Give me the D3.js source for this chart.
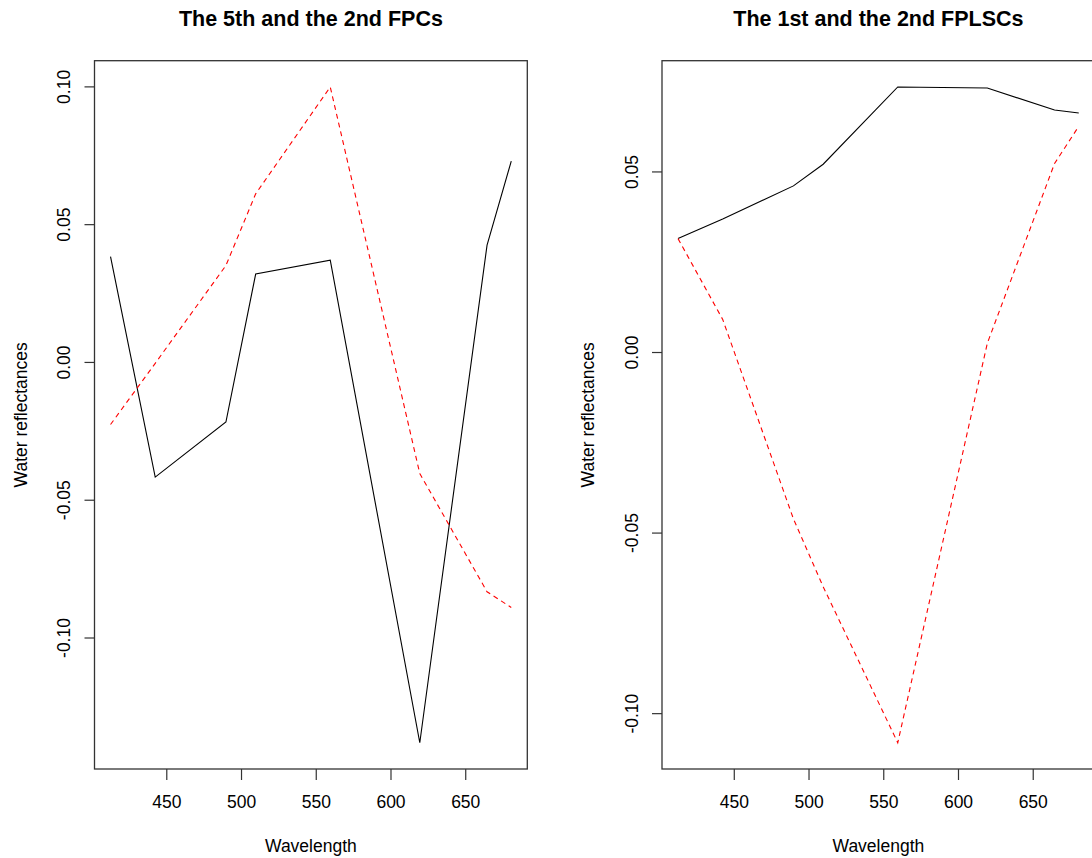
<!DOCTYPE html>
<html>
<head>
<meta charset="utf-8">
<script src="https://cdn.jsdelivr.net/npm/d3@7"></script>
<style>
	body { margin: 0; background: #fff; }
	text { font-family: "Liberation Sans", Arial, sans-serif; fill: #000; }
</style>
</head>
<body>
<div id="chart"></div>
<script>
// band centres (nm)
var wavelengths = [412.7, 442.6, 489.9, 509.8, 559.7, 619.6, 664.6, 680.8];
// left panel: the 5th and the 2nd FPCs
var fpc5 = [0.0382, -0.0418, -0.0218, 0.0319, 0.0369, -0.1382, 0.0424, 0.0729];
var fpc2 = [-0.0227, -0.0005, 0.0350, 0.0610, 0.0998, -0.0405, -0.0834, -0.0891];
// right panel: the 1st and the 2nd FPLSCs
var fplsc1 = [0.0314, 0.0368, 0.0460, 0.0520, 0.0734, 0.0731, 0.0670, 0.0662];
var fplsc2 = [0.0314, 0.0090, -0.0462, -0.0650, -0.1082, 0.0024, 0.0522, 0.0625];
var xTicks = [450, 500, 550, 600, 650];
var yTicksLeft = [-0.10, -0.05, 0.00, 0.05, 0.10];
var yTicksRight = [-0.10, -0.05, 0.00, 0.05];
var titles = ["The 5th and the 2nd FPCs", "The 1st and the 2nd FPLSCs"];

var width = 1092;
var height = 858;
var plotW = 432.8;
var plotH = 708.3;
var top0 = 60.7;

var svg = d3.select("#chart")
	.append("svg")
	.attr("width", width)
	.attr("height", height);

svg.append("rect")
	.attr("width", width)
	.attr("height", height)
	.attr("fill", "#fff");

// R style: pad the data range by 4% on each side
function padded(ext) {
	var d = (ext[1] - ext[0]) * 0.04;
	return [ext[0] - d, ext[1] + d];
}

var xScale = d3.scaleLinear()
	.domain(padded(d3.extent(wavelengths)))
	.range([0, plotW]);

function drawPanel(left, black, red, yTicks, title) {
	var g = svg.append("g")
		.attr("transform", "translate(" + left + "," + top0 + ")");

	var y = d3.scaleLinear()
		.domain(padded(d3.extent(black.concat(red))))
		.range([plotH, 0]);

	var line = d3.line()
		.x(function(d, i) { return xScale(wavelengths[i]); })
		.y(function(d) { return y(d); });

	g.append("path")
		.datum(black)
		.attr("d", line)
		.attr("fill", "none")
		.attr("stroke", "#000")
		.attr("stroke-width", 1.1);

	g.append("path")
		.datum(red)
		.attr("d", line)
		.attr("fill", "none")
		.attr("stroke", "#ff0000")
		.attr("stroke-width", 1.1)
		.attr("stroke-dasharray", "5,4");

	// x axis
	var xa = g.append("g")
		.attr("transform", "translate(0," + plotH + ")")
		.call(d3.axisBottom(xScale)
			.tickValues(xTicks)
			.tickSize(11)
			.tickPadding(15.5)
			.tickFormat(d3.format("d")));
	xa.select(".domain").remove();

	// y axis, labels turned like R's las=0
	var ya = g.append("g")
		.call(d3.axisLeft(y)
			.tickValues(yTicks)
			.tickSize(10)
			.tickFormat(function(d) { return d.toFixed(2); }));
	ya.select(".domain").remove();
	ya.selectAll("text")
		.attr("x", 0)
		.attr("y", -24.5)
		.attr("dy", null)
		.attr("text-anchor", "middle")
		.attr("transform", "rotate(-90)");

	g.selectAll(".tick line")
		.attr("stroke", "#333")
		.attr("stroke-width", 1.2);
	g.selectAll(".tick text")
		.attr("fill", "#000")
		.style("font-size", "17.5px")
		.style("font-family", "'Liberation Sans', Arial, sans-serif");

	// box
	g.append("rect")
		.attr("width", plotW)
		.attr("height", plotH)
		.attr("fill", "none")
		.attr("stroke", "#333")
		.attr("stroke-width", 1.3);

	g.append("text")
		.attr("x", plotW / 2)
		.attr("y", 25.5 - top0)
		.attr("text-anchor", "middle")
		.style("font-size", "21.5px")
		.style("font-weight", "bold")
		.text(title);

	g.append("text")
		.attr("x", plotW / 2)
		.attr("y", 852 - top0)
		.attr("text-anchor", "middle")
		.style("font-size", "17.5px")
		.text("Wavelength");

	g.append("text")
		.attr("transform", "translate(" + (26.5 - 94.5) + "," + plotH / 2 + ") rotate(-90)")
		.attr("text-anchor", "middle")
		.style("font-size", "17.5px")
		.text("Water reflectances");
}

drawPanel(94.5, fpc5, fpc2, yTicksLeft, titles[0]);
drawPanel(662, fplsc1, fplsc2, yTicksRight, titles[1]);
</script>
</body>
</html>
